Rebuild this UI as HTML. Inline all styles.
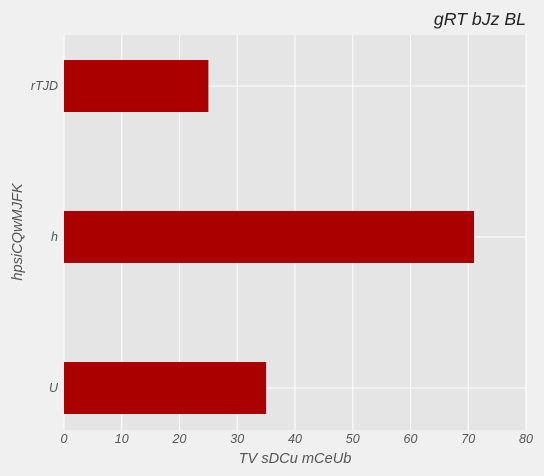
<!DOCTYPE html>
<html><head><meta charset="utf-8"><style>
body{margin:0;background:#f0f0f0;}
svg{display:block;font-family:"Liberation Sans",sans-serif;font-style:italic;}
</style></head><body>
<svg width="544" height="476">
<rect x="0" y="0" width="544" height="476" fill="#f0f0f0"/>
<rect x="64" y="35" width="462" height="395" fill="#e5e5e5"/>
<g id="grid"></g><g id="bars"></g><g id="xt"></g><g id="yt"></g>
<text x="526" y="25" text-anchor="end" font-size="17.7" fill="#222">gRT bJz BL</text>
<text x="295" y="463" text-anchor="middle" font-size="14.6" fill="#555">TV sDCu mCeUb</text>
<text transform="translate(22,232) rotate(-90)" text-anchor="middle" font-size="14.6" fill="#555">hpsiCQwMJFK</text>
</svg>
<script>
const categories=["U","h","rTJD"];
const values=[35,71,25];
const xTicks=[0,10,20,30,40,50,60,70,80];
const ns="http://www.w3.org/2000/svg";
const x=v=>64+v*(462/80);
const yc=i=>388-i*151;
function mk(t,a,p){const e=document.createElementNS(ns,t);for(const k in a)e.setAttribute(k,a[k]);document.getElementById(p).appendChild(e);return e;}
xTicks.forEach(t=>{
 const g=mk("line",{x1:x(t),x2:x(t),y1:35,y2:430,stroke:"#fff","stroke-width":1},"grid");
 
 
 const l=mk("text",{x:x(t),y:443,"text-anchor":"middle","font-size":12.5,fill:"#555"},"xt");
 l.textContent=t;
 
 
});
categories.forEach((c,i)=>{
 const g=mk("line",{x1:64,x2:526,y1:yc(i),y2:yc(i),stroke:"#fff","stroke-width":1},"grid");
 
 
 const b=mk("rect",{x:x(0),y:yc(i)-26,width:x(values[i])-x(0),height:52,fill:"#ab0000"},"bars");
 
 
 const l=mk("text",{x:58,y:yc(i)+4,"text-anchor":"end","font-size":12.5,fill:"#555"},"yt");
 l.textContent=c;
 
 
});
</script>
</body></html>
